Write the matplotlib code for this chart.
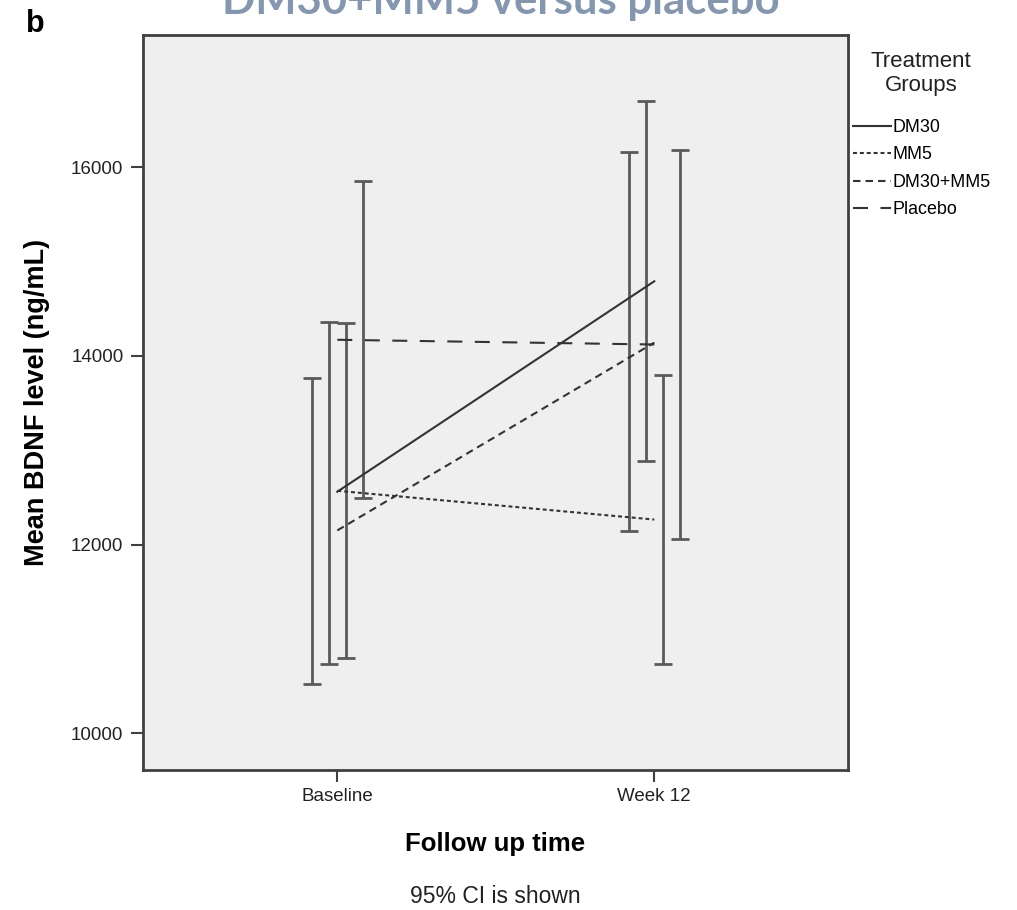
import numpy as np
import matplotlib
matplotlib.use("Agg")
import matplotlib.pyplot as plt

plt.rcParams['font.family'] = ['Liberation Sans', 'DejaVu Sans']

# data
time_labels = ["Baseline", "Week 12"]
groups = ["DM30", "MM5", "DM30+MM5", "Placebo"]
mean_base = [12560, 12570, 12150, 14170]
mean_wk12 = [14790, 12265, 14140, 14120]
ci_lo_base = [10730, 10800, 10520, 12490]
ci_hi_base = [14355, 14350, 13765, 15850]
ci_lo_wk12 = [12890, 10730, 12145, 12055]
ci_hi_wk12 = [16705, 13800, 16160, 16180]
# position of each group's error bar within a cluster
bar_slot = [-0.5, 0.5, -1.5, 1.5]

styles = {
    "DM30": dict(linestyle='-'),
    "MM5": dict(dashes=(1.9, 1.4)),
    "DM30+MM5": dict(dashes=(3.6, 2.4)),
    "Placebo": dict(dashes=(7.2, 6.0)),
}

fig = plt.figure(figsize=(10.17, 9.10), dpi=100)
ax = fig.add_axes([0.1406, 0.1538, 0.6932, 0.8077])
ax.set_facecolor('#efefef')

x = np.arange(len(time_labels))
step = 0.0536
for i, g in enumerate(groups):
    means = np.array([mean_base[i], mean_wk12[i]])
    lo = np.array([ci_lo_base[i], ci_lo_wk12[i]])
    hi = np.array([ci_hi_base[i], ci_hi_wk12[i]])
    ax.errorbar(x + bar_slot[i] * step, means, yerr=[means - lo, hi - means],
                fmt='none', ecolor='#5a5a5a', elinewidth=2, capsize=6.5,
                capthick=2, zorder=2)
    ax.plot(x, means, color='#333333', lw=1.5, label=g, zorder=3, **styles[g])

ax.set_xlim(-0.613, 1.611)
ax.set_ylim(9611, 17399)
ax.set_xticks(x)
ax.set_xticklabels(time_labels)
ax.set_yticks([10000, 12000, 14000, 16000])
ax.tick_params(axis='both', labelsize=13.5, length=8.6, width=1.5,
               color='#404040', labelcolor='#222222')
ax.tick_params(axis='y', pad=5.5)
ax.tick_params(axis='x', pad=4.5)
for s in ax.spines.values():
    s.set_color('#404040')
    s.set_linewidth(2)

ax.set_ylabel("Mean BDNF level (ng/mL)", fontsize=19.5, fontweight='bold', labelpad=15.5)
ax.set_xlabel("Follow up time", fontsize=18.5, fontweight='bold', labelpad=19)

fig.text(0.487, 0.0077, "95% CI is shown", fontsize=16.5, ha='center', va='baseline', color='#222222')
fig.text(0.026, 0.99, "b", fontsize=22, fontweight='bold', ha='left', va='top')
fig.text(0.492, 0.977, "DM30+MM5 versus placebo", fontsize=31.5, fontweight='bold',
         color='#8497b0', ha='center', va='bottom', family=['Lato', 'DejaVu Sans'])

# legend title and entries
fig.text(0.9056, 1 - 73.5 / 910, "Treatment\nGroups", fontsize=16, ha='center', va='center',
         multialignment='center', linespacing=1.15, color='#222222')
leg = ax.legend(loc='upper left', bbox_to_anchor=(0.8387, 1 - 119 / 910),
                bbox_transform=fig.transFigure, frameon=False, fontsize=12.9,
                handlelength=2.1, handletextpad=0.1, labelspacing=0.58,
                borderaxespad=0, borderpad=0)

fig.savefig("out.png", dpi=100)
